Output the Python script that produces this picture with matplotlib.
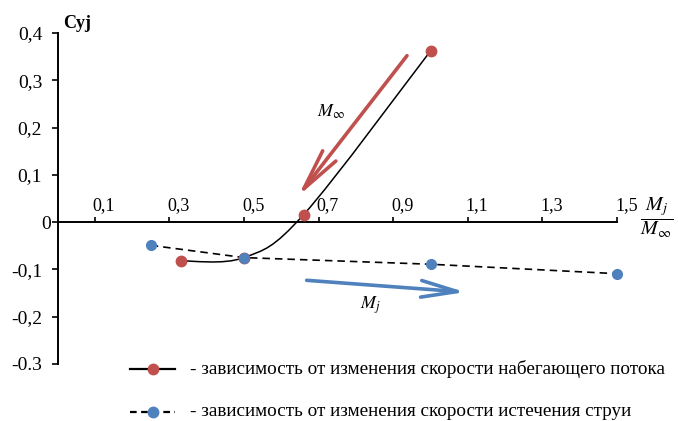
import numpy as np
import matplotlib
matplotlib.use("Agg")
import matplotlib.pyplot as plt
from matplotlib.path import Path
from matplotlib.patches import PathPatch
from matplotlib.lines import Line2D
from matplotlib.transforms import ScaledTranslation

plt.rcParams['font.family'] = ['Liberation Serif', 'DejaVu Serif']
plt.rcParams['mathtext.fontset'] = 'stix'

# Cy_j vs M_j / M_inf
mach_ratio_inf = [0.33, 0.50, 0.66, 1.00]      # varying free-stream Mach
cy_inf = [-0.082, -0.075, 0.016, 0.362]
mach_ratio_jet = [0.25, 0.50, 1.00, 1.50]      # varying jet exit Mach
cy_jet = [-0.049, -0.075, -0.089, -0.109]

xticks = [0.1, 0.3, 0.5, 0.7, 0.9, 1.1, 1.3, 1.5]
xtick_labels = ['0,1', '0,3', '0,5', '0,7', '0,9', '1,1', '1,3', '1,5']
yticks = [-0.3, -0.2, -0.1, 0.0, 0.1, 0.2, 0.3, 0.4]
ytick_labels = ['-0.3', '-0,2', '-0,1', '0', '0,1', '0,2', '0,3', '0,4']

legend_labels = ['- зависимость от изменения скорости набегающего потока',
                 '- зависимость от изменения скорости истечения струи']

RED = '#c0504d'
BLUE = '#4f81bd'


def smooth_path(xs, ys):
    # Catmull-Rom style bezier, same idea as a "smoothed line" in a spreadsheet
    pts = np.column_stack([xs, ys])
    n = len(pts)
    verts = [pts[0]]
    codes = [Path.MOVETO]
    for i in range(n - 1):
        p0 = pts[max(i - 1, 0)]
        p1 = pts[i]
        p2 = pts[i + 1]
        p3 = pts[min(i + 2, n - 1)]
        verts += [p1 + (p2 - p0) / 6, p2 - (p3 - p1) / 6, p2]
        codes += [Path.CURVE4] * 3
    return Path(verts, codes)


fig = plt.figure(figsize=(6.78, 4.21), dpi=100)
ax = fig.add_axes([57.5 / 678, 57 / 421, 559.5 / 678, 331 / 421])
ax.set_xlim(0, 1.5)
ax.set_ylim(-0.3, 0.4)

# axes: y axis on the left, x axis through zero with labels above it
ax.spines['right'].set_visible(False)
ax.spines['bottom'].set_visible(False)
ax.spines['top'].set_position(('data', 0))
ax.spines['top'].set_linewidth(1.4)
ax.spines['left'].set_linewidth(1.4)
ax.xaxis.set_ticks_position('top')
ax.set_xticks(xticks)
ax.set_xticklabels(xtick_labels)
ax.tick_params(axis='x', direction='out', length=3.5, width=1.2, pad=2, labelsize=13)
for lbl in ax.get_xticklabels():
    lbl.set_ha('left')
    lbl.set_transform(lbl.get_transform() + ScaledTranslation(-2 / 100, 0, fig.dpi_scale_trans))

ax.set_yticks(yticks)
ax.set_yticklabels(ytick_labels)
ax.tick_params(axis='y', direction='out', length=4, width=1.2, pad=7, labelsize=14)
for val, lbl in zip(yticks, ax.get_yticklabels()):
    if val == 0:
        lbl.set_transform(lbl.get_transform() + ScaledTranslation(9 / 100, 0, fig.dpi_scale_trans))

# free-stream series: smoothed solid line
ax.add_patch(PathPatch(smooth_path(mach_ratio_inf, cy_inf), fill=False,
                       edgecolor='black', lw=1.1, zorder=3))
# jet series: straight dashed line
ax.plot(mach_ratio_jet, cy_jet, color='black', lw=1.2, dashes=(4.5, 3), zorder=3,
        clip_on=False)
ax.plot(mach_ratio_inf, cy_inf, ls='none', marker='o', ms=7.5, color=RED, zorder=4,
        clip_on=False)
ax.plot(mach_ratio_jet, cy_jet, ls='none', marker='o', ms=7, color=BLUE, zorder=5,
        clip_on=False)

# direction arrows
ax.annotate('', xy=(0.645, 0.055), xytext=(0.937, 0.352),
            arrowprops=dict(arrowstyle='->,head_length=3.0,head_width=0.6',
                            color=RED, lw=2.6, mutation_scale=10, shrinkA=0, shrinkB=0))
ax.annotate('', xy=(1.093, -0.148), xytext=(0.668, -0.123),
            arrowprops=dict(arrowstyle='->,head_length=2.6,head_width=0.6',
                            color=BLUE, lw=2.6, mutation_scale=10, shrinkA=0, shrinkB=0))
ax.text(0.733, 0.234, r'$M_{\infty}$', fontsize=13, ha='center', va='center')
ax.text(0.838, -0.176, r'$M_{j}$', fontsize=13, ha='center', va='center')

# axis titles
ax.text(1.607, 0.01, r'$\dfrac{M_j}{M_\infty}$', fontsize=14.5, ha='center', va='center')
ax.text(0.052, 0.42, 'Cyj', fontsize=13, fontweight='bold', ha='center', va='center')

# legend rows drawn in figure pixels
W, H = 678, 421
rows = [(368.5, '-', RED), (411.5, '--', BLUE)]
for (ypix, ls, col), text in zip(rows, legend_labels):
    yf = 1 - ypix / H
    line = Line2D([130 / W, 175 / W], [yf, yf], transform=fig.transFigure,
                  color='black', lw=1.6, ls=ls, dashes=(3, 2) if ls == '--' else (None, None))
    mark = Line2D([152.5 / W], [yf], transform=fig.transFigure, ls='none',
                  marker='o', ms=7.5, color=col)
    fig.add_artist(line)
    fig.add_artist(mark)
    fig.text(190 / W, yf, text, fontsize=13.8, ha='left', va='center')

fig.savefig('out.png', dpi=100)
